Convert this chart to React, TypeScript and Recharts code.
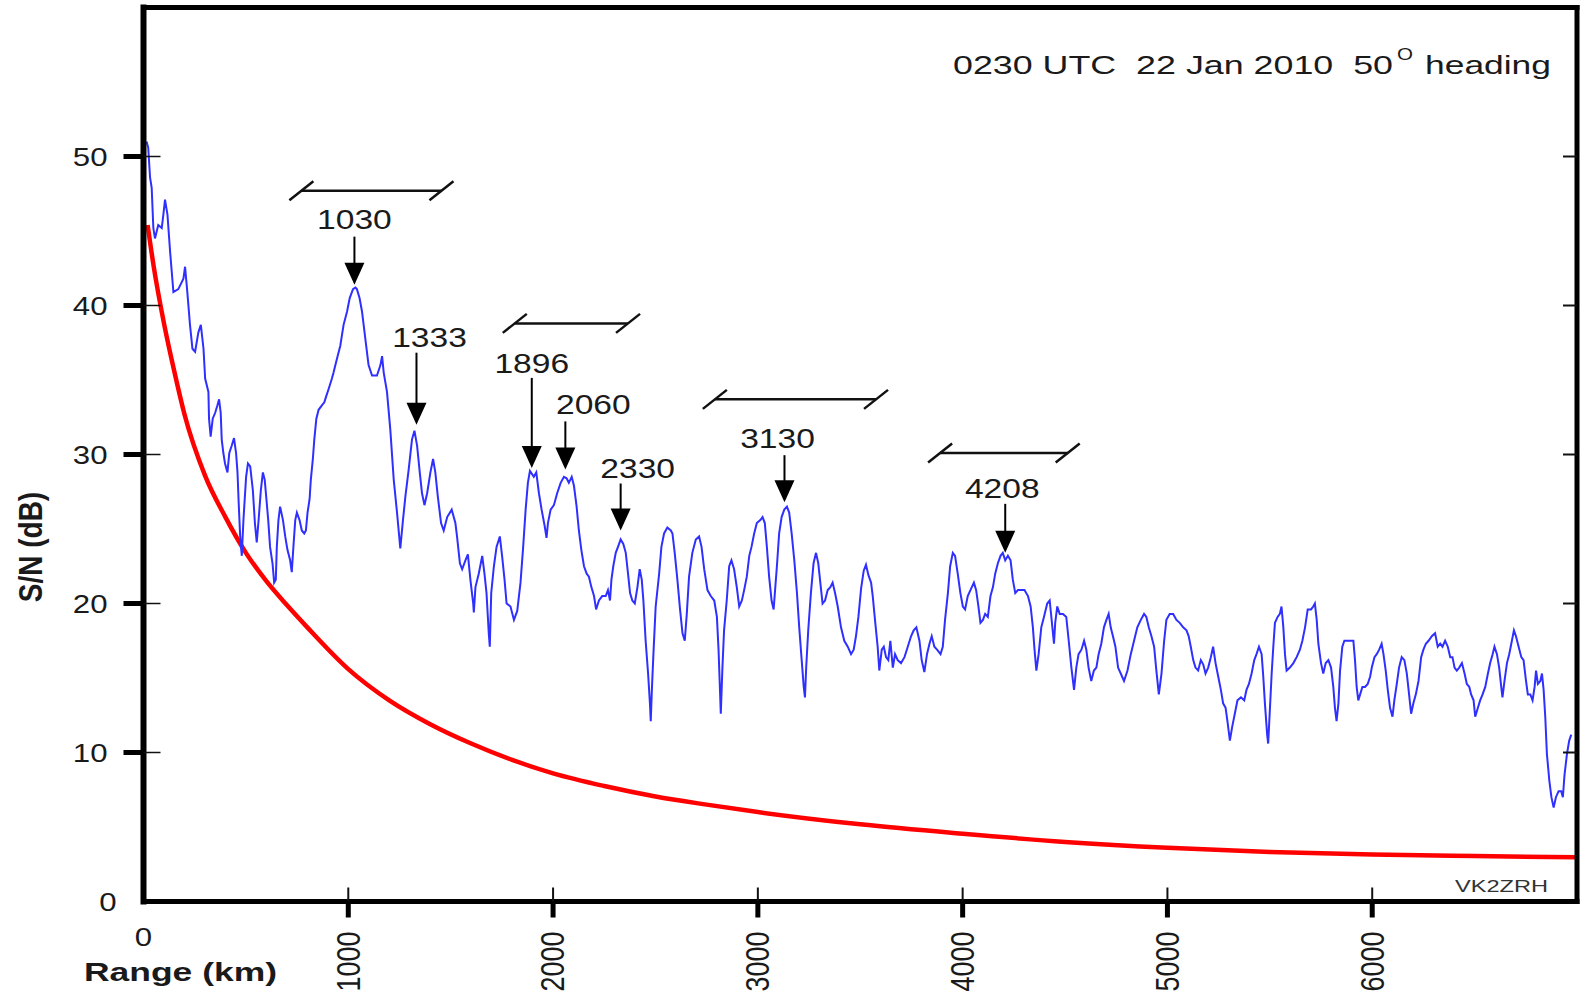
import { LineChart, Line, XAxis, YAxis, ReferenceLine, ReferenceDot } from "recharts";

const FONT = "'Liberation Sans', Arial, Helvetica, sans-serif";

// Measured S/N along the path: [range km, S/N dB]
const snrTrace: [number, number][] = [
  [15, 51.0], [23, 50.6], [32, 48.6], [40, 47.9], [48, 45.2], [56, 44.5], [72, 45.4], [89, 45.2],
  [97, 46.1], [105, 47.1], [117, 46.1], [130, 43.6], [146, 40.9], [170, 41.1], [195, 41.8], [203, 42.6],
  [214, 40.9], [227, 38.7], [239, 37.1], [252, 36.9], [268, 38.2], [280, 38.7], [293, 37.1], [301, 35.1],
  [317, 34.2], [320, 32.4], [328, 31.2], [338, 32.4], [350, 32.8], [361, 33.3], [369, 33.7], [377, 32.8],
  [382, 31.0], [390, 30.1], [398, 29.4], [410, 28.8], [419, 30.1], [431, 30.6], [442, 31.1], [452, 30.1],
  [459, 28.8], [465, 26.7], [472, 24.5], [480, 23.2], [488, 25.6], [501, 28.5], [510, 29.4], [521, 29.2],
  [534, 27.6], [544, 25.4], [553, 24.1], [562, 25.6], [573, 27.6], [583, 28.8], [592, 28.3], [599, 27.2],
  [609, 25.6], [618, 23.8], [630, 22.7], [638, 21.4], [646, 21.6], [651, 23.8], [659, 25.6], [667, 26.5],
  [681, 25.6], [692, 24.5], [703, 23.6], [716, 22.9], [724, 22.1], [732, 23.8], [741, 25.6], [749, 26.1],
  [762, 25.6], [773, 24.9], [785, 24.7], [793, 24.9], [801, 26.1], [811, 27.0], [817, 28.3], [827, 29.7],
  [834, 31.0], [844, 32.4], [855, 33.0], [871, 33.3], [883, 33.5], [892, 33.9], [904, 34.4], [920, 35.1],
  [928, 35.5], [944, 36.4], [961, 37.3], [977, 38.7], [994, 39.6], [1007, 40.5], [1023, 41.1], [1035, 41.2],
  [1042, 41.1], [1055, 40.5], [1067, 39.6], [1083, 37.8], [1099, 36.0], [1116, 35.3], [1140, 35.3], [1157, 36.0],
  [1165, 36.6], [1173, 35.5], [1189, 34.2], [1205, 31.7], [1222, 28.3], [1238, 26.1], [1254, 23.7], [1267, 25.6],
  [1279, 27.2], [1295, 29.0], [1311, 31.0], [1323, 31.6], [1336, 30.6], [1349, 28.8], [1360, 27.4], [1372, 26.6],
  [1385, 27.4], [1401, 28.8], [1414, 29.7], [1425, 28.8], [1437, 27.2], [1453, 25.4], [1466, 24.9], [1483, 25.8],
  [1505, 26.3], [1523, 25.4], [1531, 24.5], [1545, 22.7], [1556, 22.3], [1572, 22.9], [1584, 23.3], [1597, 21.5],
  [1610, 20.0], [1613, 19.4], [1621, 21.1], [1637, 22.0], [1654, 23.2], [1665, 22.0], [1675, 20.7], [1686, 18.0],
  [1691, 17.1], [1698, 20.7], [1711, 22.5], [1724, 23.8], [1740, 24.5], [1751, 23.2], [1763, 21.6], [1773, 20.0],
  [1792, 19.8], [1809, 18.9], [1825, 19.5], [1841, 21.4], [1854, 23.8], [1866, 26.3], [1877, 28.1], [1887, 28.9],
  [1906, 28.5], [1918, 28.8], [1931, 27.4], [1944, 26.3], [1959, 25.2], [1968, 24.4], [1975, 25.4], [1988, 26.3],
  [2004, 26.6], [2020, 27.4], [2037, 28.1], [2053, 28.5], [2066, 28.4], [2077, 28.1], [2091, 28.5], [2102, 27.9],
  [2115, 26.5], [2126, 24.9], [2138, 23.6], [2151, 22.5], [2164, 22.0], [2175, 21.8], [2187, 21.1], [2200, 20.5],
  [2210, 19.6], [2224, 20.2], [2240, 20.5], [2257, 20.5], [2268, 20.9], [2278, 20.2], [2285, 21.6], [2294, 22.5],
  [2306, 23.4], [2317, 23.8], [2330, 24.3], [2343, 24.0], [2355, 23.4], [2366, 22.0], [2376, 20.7], [2387, 20.2],
  [2399, 20.0], [2412, 21.1], [2423, 22.3], [2433, 21.6], [2441, 20.2], [2452, 17.5], [2464, 15.3], [2473, 13.3],
  [2477, 12.1], [2483, 14.4], [2490, 16.6], [2501, 19.8], [2518, 22.0], [2529, 23.8], [2542, 24.7], [2558, 25.1],
  [2575, 24.9], [2583, 24.7], [2594, 23.4], [2607, 21.6], [2620, 19.6], [2632, 18.0], [2643, 17.5], [2653, 19.3],
  [2664, 21.8], [2680, 23.4], [2697, 24.3], [2713, 24.5], [2725, 23.8], [2738, 22.3], [2754, 20.9], [2770, 20.5],
  [2787, 20.2], [2800, 19.1], [2808, 16.9], [2814, 14.6], [2819, 12.6], [2827, 15.7], [2835, 18.2], [2848, 20.2],
  [2860, 22.5], [2871, 22.9], [2884, 22.3], [2897, 21.1], [2909, 19.8], [2922, 20.2], [2933, 20.9], [2946, 21.8],
  [2958, 23.2], [2969, 23.8], [2982, 24.7], [2995, 25.4], [3012, 25.6], [3023, 25.8], [3034, 25.4], [3044, 23.8],
  [3055, 21.8], [3067, 20.2], [3077, 19.6], [3083, 20.7], [3093, 22.5], [3104, 24.7], [3116, 25.8], [3129, 26.3],
  [3142, 26.5], [3153, 26.1], [3165, 24.7], [3178, 22.9], [3191, 20.7], [3202, 18.4], [3214, 16.2], [3224, 14.4],
  [3230, 13.7], [3236, 15.7], [3246, 18.2], [3259, 20.7], [3272, 22.7], [3284, 23.4], [3295, 22.7], [3305, 21.4],
  [3316, 20.0], [3328, 20.2], [3341, 20.9], [3354, 21.1], [3365, 21.4], [3377, 20.7], [3390, 19.8], [3406, 18.4],
  [3422, 17.5], [3439, 17.1], [3455, 16.6], [3468, 16.9], [3479, 17.8], [3491, 19.1], [3504, 21.0], [3517, 22.2],
  [3528, 22.6], [3540, 21.9], [3553, 21.4], [3561, 20.5], [3572, 18.9], [3585, 17.1], [3593, 15.5], [3605, 16.9],
  [3615, 17.1], [3626, 16.4], [3637, 16.2], [3647, 17.5], [3659, 15.7], [3670, 16.6], [3683, 16.2], [3699, 16.0],
  [3716, 16.4], [3732, 17.1], [3748, 17.8], [3761, 18.2], [3774, 18.4], [3789, 17.5], [3800, 16.2], [3813, 15.4],
  [3826, 16.6], [3838, 17.3], [3849, 17.8], [3862, 17.1], [3875, 16.9], [3892, 16.6], [3903, 17.1], [3914, 18.9],
  [3928, 20.7], [3939, 22.5], [3952, 23.4], [3963, 23.2], [3976, 22.0], [3989, 20.7], [4001, 19.8], [4012, 19.6],
  [4025, 20.5], [4038, 20.9], [4055, 21.4], [4066, 20.9], [4077, 19.8], [4087, 18.7], [4099, 18.9], [4110, 19.3],
  [4123, 19.1], [4136, 20.5], [4148, 21.1], [4159, 22.0], [4172, 22.7], [4185, 23.2], [4196, 23.4], [4208, 22.9],
  [4221, 23.2], [4234, 22.9], [4245, 21.6], [4257, 20.7], [4270, 20.9], [4286, 20.9], [4302, 20.9], [4319, 20.5],
  [4332, 19.8], [4343, 18.4], [4351, 16.9], [4360, 15.5], [4371, 16.6], [4384, 18.4], [4397, 19.1], [4413, 20.0],
  [4425, 20.2], [4436, 18.7], [4446, 17.3], [4452, 18.7], [4462, 19.8], [4474, 19.3], [4490, 19.3], [4506, 19.1],
  [4518, 17.5], [4531, 15.7], [4544, 14.2], [4555, 15.7], [4566, 16.6], [4580, 16.9], [4593, 17.5], [4604, 16.9],
  [4615, 15.7], [4628, 14.8], [4641, 15.5], [4653, 15.7], [4664, 16.6], [4677, 17.3], [4690, 18.4], [4702, 18.9],
  [4713, 19.3], [4723, 18.4], [4734, 17.8], [4746, 17.1], [4759, 15.7], [4772, 15.3], [4788, 14.8], [4805, 15.5],
  [4821, 16.6], [4837, 17.5], [4853, 18.4], [4870, 18.9], [4886, 19.3], [4897, 19.1], [4909, 18.4], [4922, 17.8],
  [4935, 17.1], [4946, 15.5], [4958, 13.9], [4971, 15.3], [4984, 17.5], [4995, 18.9], [5011, 19.3], [5028, 19.3],
  [5044, 18.9], [5060, 18.7], [5077, 18.4], [5093, 18.2], [5104, 17.8], [5114, 17.1], [5126, 16.2], [5137, 15.7],
  [5150, 15.5], [5163, 16.2], [5175, 15.9], [5186, 15.3], [5199, 15.7], [5212, 16.4], [5223, 17.1], [5235, 16.0],
  [5248, 15.1], [5261, 14.2], [5272, 13.3], [5284, 13.0], [5293, 12.1], [5305, 10.8], [5316, 11.7], [5329, 12.6],
  [5342, 13.5], [5359, 13.7], [5375, 13.5], [5386, 14.2], [5398, 14.6], [5411, 15.3], [5424, 16.2], [5435, 16.6],
  [5447, 17.1], [5460, 16.6], [5468, 15.1], [5476, 13.3], [5487, 11.2], [5492, 10.6], [5500, 12.8], [5509, 15.3],
  [5517, 17.1], [5525, 18.7], [5538, 19.1], [5549, 19.3], [5557, 19.8], [5566, 18.4], [5574, 16.6], [5582, 15.5],
  [5598, 15.7], [5615, 16.0], [5631, 16.4], [5647, 16.9], [5659, 17.5], [5672, 18.4], [5685, 19.6], [5701, 19.6],
  [5712, 19.8], [5720, 20.0], [5729, 18.9], [5737, 17.3], [5750, 16.0], [5761, 15.3], [5773, 16.0], [5786, 16.2],
  [5799, 15.7], [5810, 14.4], [5818, 13.0], [5826, 12.1], [5835, 13.3], [5843, 15.5], [5854, 17.1], [5864, 17.5],
  [5883, 17.5], [5908, 17.5], [5916, 16.2], [5924, 14.4], [5932, 13.5], [5941, 13.9], [5952, 14.4], [5965, 14.4],
  [5978, 14.6], [5990, 15.1], [5998, 15.7], [6011, 16.4], [6022, 16.6], [6034, 16.9], [6046, 17.3], [6055, 16.6],
  [6066, 15.5], [6076, 14.2], [6087, 13.0], [6099, 12.4], [6108, 13.5], [6120, 14.6], [6131, 15.7], [6144, 16.4],
  [6157, 16.2], [6169, 15.3], [6180, 13.9], [6190, 12.6], [6201, 13.3], [6213, 13.9], [6226, 14.8], [6239, 16.4],
  [6250, 16.9], [6262, 17.3], [6275, 17.5], [6291, 17.8], [6307, 18.0], [6320, 17.1], [6332, 17.3], [6343, 17.1],
  [6356, 17.5], [6369, 17.1], [6381, 16.4], [6392, 16.4], [6402, 15.7], [6413, 15.5], [6425, 15.7], [6438, 16.0],
  [6451, 15.3], [6462, 14.6], [6474, 14.4], [6483, 13.9], [6495, 13.5], [6503, 12.4], [6516, 13.0], [6527, 13.5],
  [6539, 13.9], [6552, 14.4], [6565, 15.3], [6576, 16.0], [6588, 16.6], [6597, 17.1], [6609, 16.6], [6620, 15.7],
  [6630, 14.4], [6636, 13.7], [6646, 14.8], [6658, 16.0], [6669, 16.6], [6682, 17.5], [6692, 18.2], [6702, 17.8],
  [6715, 17.1], [6728, 16.4], [6739, 16.2], [6751, 14.8], [6760, 13.9], [6772, 13.9], [6783, 13.5], [6793, 14.4],
  [6800, 15.5], [6809, 14.6], [6821, 14.8], [6829, 15.3], [6837, 14.2], [6845, 12.4], [6853, 9.9], [6865, 8.1],
  [6875, 7.0], [6886, 6.3], [6897, 7.0], [6910, 7.4], [6923, 7.4], [6931, 7.0], [6939, 8.5], [6951, 9.9],
  [6962, 10.8], [6972, 11.2],
];

// Detection threshold curve: [range km, S/N dB]
const thresholdTrace: [number, number][] = [
  [20, 45.4], [50, 42.6], [100, 38.8], [150, 35.6], [200, 32.7], [300, 28.6], [400, 25.8], [500, 23.4],
  [600, 21.5], [700, 19.9], [800, 18.4], [1000, 15.6], [1200, 13.5], [1400, 11.9], [1600, 10.6], [1800, 9.5],
  [2000, 8.6], [2250, 7.75], [2500, 7.05], [2750, 6.5], [3000, 6.0], [3500, 5.18], [4000, 4.55], [4500, 4.0],
  [5000, 3.6], [5500, 3.32], [6000, 3.15], [6500, 3.05], [7000, 2.97],
];

// Marked echo peaks
const peakKm = [1030, 1333, 1896, 2060, 2330, 3130, 4208];
const peakDb = [41.4, 32.0, 29.1, 29.0, 24.9, 26.8, 23.4];

// Hop spans drawn above the trace
const spanStartKm = [771, 1813, 2790, 3890];
const spanEndKm = [1455, 2366, 3577, 4513];
const spanDb = [47.7, 38.8, 33.7, 30.1];

const rangeTicks = [0, 1000, 2000, 3000, 4000, 5000, 6000];
const snrTicks = [0, 10, 20, 30, 40, 50];
const frameRangeTicks = [1000, 2000, 3000, 4000, 5000, 6000];
const frameSnrTicks = [10, 20, 30, 40, 50];

// arrow shaft length and label placement (px) for each peak
const calloutLayout = [
  { tail: 48, dx: 0, dy: -65 },
  { tail: 72, dx: 13, dy: -87 },
  { tail: 90, dx: 0, dy: -104 },
  { tail: 48, dx: 28, dy: -65 },
  { tail: 47, dx: 17, dy: -62 },
  { tail: 47, dx: -7, dy: -64 },
  { tail: 49, dx: -3, dy: -64 },
];

const snrData = snrTrace.map(([km, db]) => ({ km, db }));
const thresholdData = thresholdTrace.map(([km, db]) => ({ km, db }));

function StretchText({ x, y, size = 26, weight = 400, anchor = "middle", rotate = false, fill = "#1a1a1a", children }: any) {
  return (
    <text
      transform={`translate(${x},${y}) scale(1.2,1)${rotate ? " rotate(-90)" : ""}`}
      textAnchor={anchor}
      dominantBaseline="central"
      fontFamily={FONT}
      fontSize={size}
      fontWeight={weight}
      fill={fill}
    >
      {children}
    </text>
  );
}

const RangeTick = ({ x, y, payload }: any) => {
  if (payload.value === 0) {
    return <StretchText x={x} y={y + 35}>0</StretchText>;
  }
  return (
    <g>
      <line x1={x} y1={y - 14} x2={x} y2={y} stroke="#111" strokeWidth={2} />
      <line x1={x} y1={y} x2={x} y2={y + 16} stroke="#000" strokeWidth={5} />
      <StretchText x={x} y={y + 30} anchor="end" rotate size={27}>{payload.value}</StretchText>
    </g>
  );
};

const SnrTick = ({ x, y, payload }: any) => {
  if (payload.value === 0) {
    return <StretchText x={x - 27} y={y} anchor="end">0</StretchText>;
  }
  return (
    <g>
      <line x1={x} y1={y} x2={x + 17} y2={y} stroke="#111" strokeWidth={1.5} />
      <line x1={x - 20} y1={y} x2={x} y2={y} stroke="#000" strokeWidth={5} />
      <StretchText x={x - 36} y={y} anchor="end">{payload.value}</StretchText>
    </g>
  );
};

const TopTick = ({ x, y }: any) => <line x1={x} y1={y} x2={x} y2={y + 14} stroke="#111" strokeWidth={2} />;
const RightTick = ({ x, y }: any) => <line x1={x - 14} y1={y} x2={x} y2={y} stroke="#111" strokeWidth={2} />;

const makeArrow = (i: number) => (props: any) => {
  const { cx, cy } = props;
  const lay = calloutLayout[i];
  return (
    <g>
      <line x1={cx} y1={cy - lay.tail} x2={cx} y2={cy - 20} stroke="#000" strokeWidth={2} />
      <path d={`M${cx - 10},${cy - 22} L${cx + 10},${cy - 22} L${cx},${cy} Z`} fill="#000" />
      <StretchText x={cx + lay.dx} y={cy + lay.dy} size={28}>{peakKm[i]}</StretchText>
    </g>
  );
};

const SpanBar = (props: any) => {
  const { x1, y1, x2 } = props;
  return (
    <g stroke="#111" strokeWidth={2.5}>
      <line x1={x1} y1={y1} x2={x2} y2={y1} />
      <line x1={x1 - 12} y1={y1 + 9.5} x2={x1 + 12} y2={y1 - 9.5} />
      <line x1={x2 - 12} y1={y1 + 9.5} x2={x2 + 12} y2={y1 - 9.5} />
    </g>
  );
};

const frameLine = { stroke: "#000", strokeWidth: 5, strokeLinecap: "square" as const };

export default function App() {
  return (
    <div style={{ position: "absolute", left: 0, top: 0, width: 1585, height: 997, background: "#fff" }}>
      <LineChart width={1585} height={997} margin={{ top: 6.5, right: 7, bottom: 94.5, left: 142.5 }}>
        <XAxis
          xAxisId="x"
          dataKey="km"
          type="number"
          domain={[0, 7000]}
          ticks={rangeTicks}
          interval={0}
          height={1}
          tickSize={0}
          tickMargin={0}
          tickLine={false}
          axisLine={frameLine}
          tick={<RangeTick />}
          allowDataOverflow
        />
        <XAxis
          xAxisId="top"
          orientation="top"
          type="number"
          domain={[0, 7000]}
          ticks={frameRangeTicks}
          interval={0}
          height={1}
          tickSize={0}
          tickMargin={0}
          tickLine={false}
          axisLine={frameLine}
          tick={<TopTick />}
          allowDataOverflow
        />
        <YAxis
          yAxisId="y"
          type="number"
          domain={[0, 60]}
          ticks={snrTicks}
          interval={0}
          width={1}
          tickSize={0}
          tickMargin={0}
          tickLine={false}
          axisLine={{ ...frameLine, strokeWidth: 6 }}
          tick={<SnrTick />}
          allowDataOverflow
        />
        <YAxis
          yAxisId="right"
          orientation="right"
          type="number"
          domain={[0, 60]}
          ticks={frameSnrTicks}
          interval={0}
          width={1}
          tickSize={0}
          tickMargin={0}
          tickLine={false}
          axisLine={frameLine}
          tick={<RightTick />}
          allowDataOverflow
        />
        <Line
          xAxisId="x"
          yAxisId="y"
          data={thresholdData}
          dataKey="db"
          type="monotone"
          stroke="#ff0000"
          strokeWidth={4.5}
          dot={false}
          isAnimationActive={false}
        />
        <Line
          xAxisId="x"
          yAxisId="y"
          data={snrData}
          dataKey="db"
          type="linear"
          stroke="#2f2fff"
          strokeWidth={2}
          dot={false}
          isAnimationActive={false}
        />
        {spanDb.map((db, i) => (
          <ReferenceLine
            key={`span-${i}`}
            xAxisId="x"
            yAxisId="y"
            segment={[{ x: spanStartKm[i], y: db }, { x: spanEndKm[i], y: db }]}
            shape={SpanBar}
          />
        ))}
        {peakKm.map((km, i) => (
          <ReferenceDot
            key={`peak-${km}`}
            xAxisId="x"
            yAxisId="y"
            x={km}
            y={peakDb[i]}
            shape={makeArrow(i)}
          />
        ))}
      </LineChart>
      <svg width={1585} height={997} style={{ position: "absolute", left: 0, top: 0, pointerEvents: "none" }}>
        <text x={953} y={74} fontFamily={FONT} fontSize={25} fill="#1a1a1a" textLength={440} lengthAdjust="spacingAndGlyphs" style={{ whiteSpace: "pre" }}>
          0230 UTC  22 Jan 2010  50
        </text>
        <text x={1397} y={60} fontFamily={FONT} fontSize={17} fill="#1a1a1a" textLength={16} lengthAdjust="spacingAndGlyphs">O</text>
        <text x={1425} y={74} fontFamily={FONT} fontSize={25} fill="#1a1a1a" textLength={126} lengthAdjust="spacingAndGlyphs">heading</text>
        <text x={84} y={981} fontFamily={FONT} fontSize={25} fontWeight={700} fill="#1a1a1a" textLength={193} lengthAdjust="spacingAndGlyphs">Range (km)</text>
        <StretchText x={31} y={547} size={28} weight={700} rotate>S/N (dB)</StretchText>
        <text x={1455} y={892} fontFamily={FONT} fontSize={17} fill="#333" textLength={93} lengthAdjust="spacingAndGlyphs">VK2ZRH</text>
      </svg>
    </div>
  );
}
